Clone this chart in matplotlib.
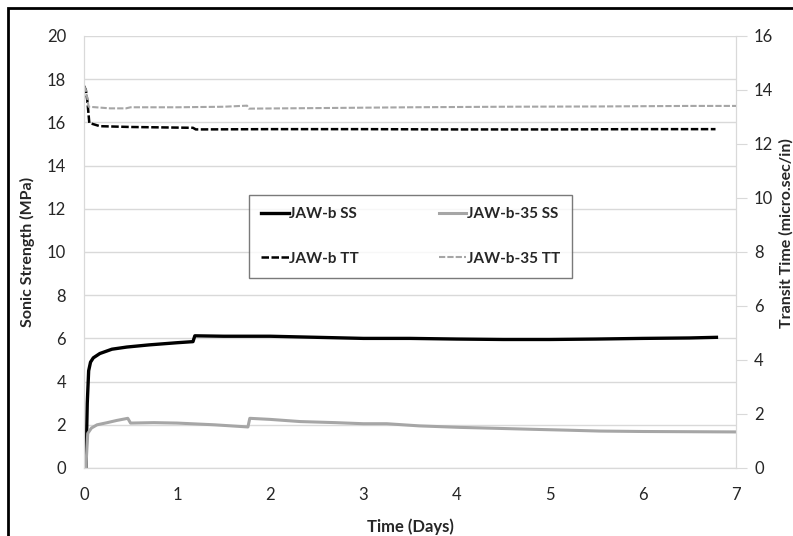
import matplotlib
matplotlib.use("Agg")
import matplotlib.pyplot as plt
from matplotlib.patches import Rectangle

plt.rcParams['font.family'] = ['Lato', 'DejaVu Sans']

# Sonic strength (MPa), left axis
ss_b_days = [0.0, 0.02, 0.035, 0.05, 0.07, 0.1, 0.17, 0.3, 0.46, 0.7, 1.0, 1.17, 1.19, 1.5, 2.0, 2.5, 3.0, 3.5, 4.0, 4.5, 5.0, 5.5, 6.0, 6.5, 6.79]
ss_b = [0.0, 0.0, 3.0, 4.5, 4.9, 5.1, 5.3, 5.5, 5.6, 5.7, 5.8, 5.85, 6.12, 6.1, 6.1, 6.05, 6.0, 6.0, 5.97, 5.95, 5.95, 5.97, 6.0, 6.02, 6.05]

ss_b35_days = [0.0, 0.02, 0.04, 0.08, 0.14, 0.25, 0.35, 0.47, 0.5, 0.75, 1.0, 1.4, 1.76, 1.78, 2.0, 2.32, 2.7, 3.0, 3.25, 3.6, 4.04, 4.4, 4.83, 5.2, 5.54, 6.0, 6.5, 7.0]
ss_b35 = [0.0, 0.0, 1.6, 1.85, 2.0, 2.1, 2.2, 2.3, 2.08, 2.1, 2.08, 2.0, 1.9, 2.3, 2.25, 2.15, 2.1, 2.05, 2.05, 1.95, 1.88, 1.84, 1.79, 1.75, 1.71, 1.69, 1.68, 1.67]

# Transit time (micro.sec/in), right axis
tt_b_days = [0.0, 0.02, 0.036, 0.057, 0.17, 0.5, 1.17, 1.2, 2.0, 3.0, 4.0, 5.0, 6.0, 6.78]
tt_b = [14.15, 14.0, 13.6, 12.78, 12.66, 12.63, 12.6, 12.54, 12.55, 12.55, 12.54, 12.54, 12.55, 12.55]

tt_b35_days = [0.0, 0.02, 0.05, 0.28, 0.45, 0.5, 1.0, 1.5, 1.75, 1.77, 2.5, 3.5, 4.5, 5.5, 6.5, 7.0]
tt_b35 = [14.15, 14.0, 13.38, 13.32, 13.32, 13.36, 13.36, 13.38, 13.42, 13.31, 13.33, 13.36, 13.38, 13.39, 13.41, 13.41]

light = '#d9d9d9'
txt = '#262626'

fig = plt.figure(figsize=(7.93, 5.36), dpi=100)
ax = fig.add_axes([84 / 793, 1 - 468 / 536, (736 - 84) / 793, (468 - 36) / 536])
ax2 = ax.twinx()

l1, = ax.plot(ss_b_days, ss_b, color='black', lw=2.4, label='JAW-b SS')
l2, = ax.plot(ss_b35_days, ss_b35, color='#a6a6a6', lw=2.2, label='JAW-b-35 SS')
l3, = ax2.plot(tt_b_days, tt_b, color='black', lw=1.8, ls=(0, (3, 1)), label='JAW-b TT')
l4, = ax2.plot(tt_b35_days, tt_b35, color='#a6a6a6', lw=1.5, ls=(0, (3, 1)), label='JAW-b-35 TT')

ax.set_xlim(0, 7)
ax.set_ylim(0, 20)
ax2.set_ylim(0, 16)
ax.set_yticks(range(0, 21, 2))
ax2.set_yticks(range(0, 17, 2))
ax.set_xticks(range(0, 8))
ax.yaxis.grid(True, color=light, lw=1)
ax.set_axisbelow(True)

for a in (ax, ax2):
    for s in a.spines.values():
        s.set_color(light)
    a.spines['top'].set_visible(False)
ax.tick_params(axis='both', length=0, labelsize=12, labelcolor=txt)
ax.tick_params(axis='y', pad=13)
ax.tick_params(axis='x', pad=14)
ax2.tick_params(axis='y', length=8, color=light, labelsize=12, labelcolor=txt, pad=5)

ax.set_xlabel('Time (Days)', fontsize=12, fontweight='bold', color=txt)
ax.set_ylabel('Sonic Strength (MPa)', fontsize=11.5, fontweight='bold', color=txt)
ax2.set_ylabel('Transit Time (micro.sec/in)', fontsize=11.5, fontweight='bold', color=txt)
ax.xaxis.set_label_coords(0.5, -(518 - 468) / 432)
ax.yaxis.set_label_coords((35 - 84) / 652, 0.5)
ax2.yaxis.set_label_coords((779 - 84) / 652, (468 - 233) / 432)

leg = ax.legend([l1, l3, l2, l4], ['JAW-b SS', 'JAW-b TT', 'JAW-b-35 SS', 'JAW-b-35 TT'],
                ncol=2, loc='upper left', bbox_to_anchor=(249 / 793, 1 - 195 / 536),
                bbox_transform=fig.transFigure, fancybox=False, edgecolor='#595959',
                handlelength=1.8, handletextpad=0.05, columnspacing=5.2, labelspacing=2.0,
                borderpad=0.8, borderaxespad=0, prop={'weight': 'bold', 'size': 11})
leg.get_frame().set_linewidth(1.0)
for t in leg.get_texts():
    t.set_color(txt)

# outer chart border (right and bottom edges fall outside the picture)
fig.patches.append(Rectangle((8, -100), 900, 536 - 8 + 100, transform=None,
                             fill=False, edgecolor='black', lw=2))

fig.savefig('out.png', dpi=100)
